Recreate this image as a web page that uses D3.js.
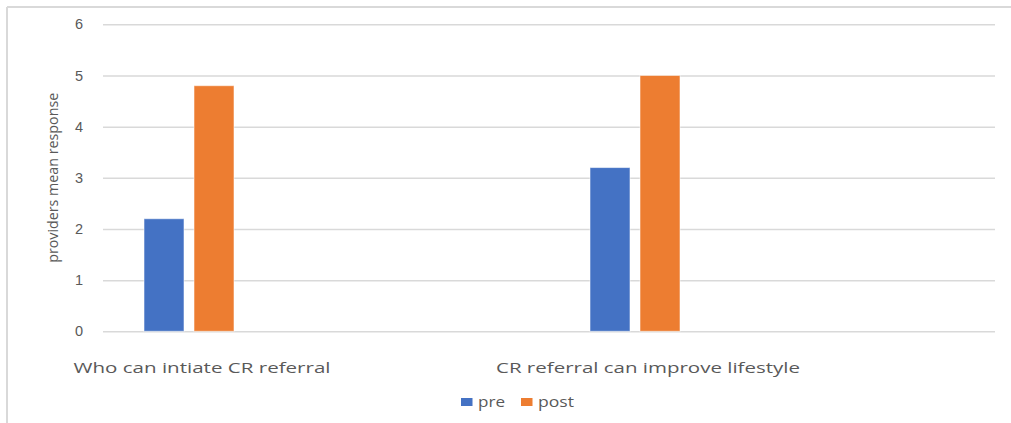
<!DOCTYPE html>
<html>
<head>
<meta charset="utf-8">
<script src="https://cdn.jsdelivr.net/npm/d3@7/dist/d3.min.js"></script>
<style>
  html, body { margin: 0; padding: 0; background: #fff; }
  svg { display: block; font-family: "Open Sans", "DejaVu Sans", sans-serif; }
</style>
</head>
<body>
<svg id="chart" width="1011" height="423"></svg>
<script>
// Survey items and the two measurement rounds
const categories = ["Who can intiate CR referral", "CR referral can improve lifestyle"];
const series = ["pre", "post"];
const preValues = [2.2, 3.2];
const postValues = [4.8, 5.0];
const yTicks = [0, 1, 2, 3, 4, 5, 6];
const yTitle = "providers mean response";

const colors = { pre: "#4472C4", post: "#ED7D31" };
const textColor = "#595959";
const gridColor = "#d9d9d9";

const svg = d3.select("#chart");
const margin = { left: 103, right: 16, top: 24.3, bottom: 91.7 };
const W = 1011, H = 423;
const plotW = W - margin.left - margin.right;
const plotH = H - margin.top - margin.bottom;

// Outer frame (top and left edges)
svg.append("line").attr("x1", 7).attr("x2", W).attr("y1", 7).attr("y2", 7)
  .attr("stroke", gridColor).attr("stroke-width", 2);
svg.append("line").attr("x1", 7).attr("x2", 7).attr("y1", 7).attr("y2", H)
  .attr("stroke", gridColor).attr("stroke-width", 2);

const g = svg.append("g").attr("transform", `translate(${margin.left},${margin.top})`);

const x0 = d3.scaleBand().domain(categories).range([0, plotW]);
const x1 = d3.scaleBand().domain(series).range([41, 131]).paddingInner(0.2);
const y = d3.scaleLinear().domain([0, 6]).range([plotH, 0]);

// Horizontal gridlines with value labels
const yAxis = d3.axisLeft(y).tickValues(yTicks).tickSize(-plotW).tickPadding(20)
  .tickFormat(d3.format("d"));
const ya = g.append("g").call(yAxis);
ya.select(".domain").remove();
ya.selectAll(".tick line").attr("stroke", gridColor).attr("stroke-width", 1.5);
ya.selectAll(".tick text").attr("fill", textColor).attr("font-size", 14.5);

// Bars
const rows = categories.map((c, i) => ({ cat: c, pre: preValues[i], post: postValues[i] }));
const groups = g.selectAll(".grp").data(rows).join("g")
  .attr("transform", d => `translate(${x0(d.cat)},0)`);
groups.selectAll("rect")
  .data(d => series.map(s => ({ s, v: d[s] })))
  .join("rect")
  .attr("x", d => x1(d.s))
  .attr("width", x1.bandwidth())
  .attr("y", d => y(d.v))
  .attr("height", d => y(0) - y(d.v))
  .attr("fill", d => colors[d.s])
  .attr("stroke", "rgba(255,255,255,0.55)")
  .attr("stroke-width", 1);

// Category labels
const labelWidths = [257, 304];
groups.append("text")
  .attr("x", x1("pre") + (x1("post") + x1.bandwidth() - x1("pre")) / 2 + 13)
  .attr("y", plotH + 42)
  .attr("text-anchor", "middle")
  .attr("font-size", 15)
  .attr("fill", textColor)
  .attr("textLength", (d, i) => labelWidths[i])
  .attr("lengthAdjust", "spacingAndGlyphs")
  .text(d => d.cat);

// Y axis title
svg.append("text")
  .attr("transform", `translate(58,${margin.top + plotH / 2}) rotate(-90)`)
  .attr("text-anchor", "middle")
  .attr("font-size", 14)
  .attr("fill", textColor)
  .attr("textLength", 170)
  .attr("lengthAdjust", "spacingAndGlyphs")
  .text(yTitle);

// Legend
const legend = svg.append("g").attr("transform", "translate(461,398)");
const legendItems = [
  { s: "pre", dx: 0, w: 27 },
  { s: "post", dx: 60, w: 36 }
];
const li = legend.selectAll("g").data(legendItems).join("g")
  .attr("transform", d => `translate(${d.dx},0)`);
li.append("rect").attr("width", 11.5).attr("height", 8).attr("fill", d => colors[d.s]);
li.append("text").attr("x", 17).attr("y", 9).attr("font-size", 14)
  .attr("fill", textColor)
  .attr("textLength", d => d.w)
  .attr("lengthAdjust", "spacingAndGlyphs")
  .text(d => d.s);
</script>
</body>
</html>
